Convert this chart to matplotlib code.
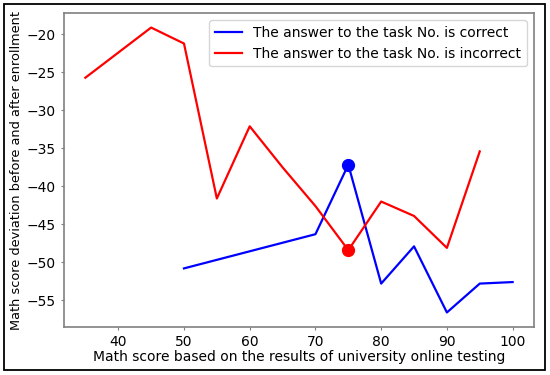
import matplotlib
matplotlib.use("Agg")
import matplotlib.pyplot as plt
from matplotlib.patches import Rectangle

correct_x = [50, 70, 75, 80, 85, 90, 95, 100]
correct_y = [-50.8, -46.3, -37.15, -52.8, -47.9, -56.6, -52.8, -52.6]
incorrect_x = [35, 45, 50, 55, 60, 65, 70, 75, 80, 85, 90, 95]
incorrect_y = [-25.7, -19.1, -21.2, -41.6, -32.1, -37.5, -42.6, -48.4, -42.0, -43.9, -48.1, -35.4]
marker_x = 75
label_correct = "The answer to the task No. is correct"
label_incorrect = "The answer to the task No. is incorrect"
xlabel = "Math score based on the results of university online testing"
ylabel = "Math score deviation before and after enrollment"

fig = plt.figure(figsize=(5.5, 3.75), dpi=100)
ax = fig.add_axes([0.1164, 0.1288, 0.8545, 0.8357])

ax.plot(correct_x, correct_y, color="blue", lw=1.6, label=label_correct)
ax.plot(incorrect_x, incorrect_y, color="red", lw=1.6, label=label_incorrect)
ax.plot([marker_x], [correct_y[correct_x.index(marker_x)]], "o", color="blue", ms=8.5)
ax.plot([marker_x], [incorrect_y[incorrect_x.index(marker_x)]], "o", color="red", ms=8.5)

ax.set_xlabel(xlabel, fontsize=10, labelpad=1)
ax.set_ylabel(ylabel, fontsize=9.3, labelpad=2.5)
ax.tick_params(labelsize=10, length=2.5, color="#808080")
ax.set_xticks([40, 50, 60, 70, 80, 90, 100])
ax.set_yticks([-20, -25, -30, -35, -40, -45, -50, -55])
for s in ax.spines.values():
    s.set_color("#808080")
    s.set_linewidth(1.2)

ax.legend(loc="upper right", fontsize=10, handlelength=2, borderaxespad=0.5)

fig.patches.append(Rectangle((4 / 550, 5 / 375), 541 / 550, 366 / 375,
                             transform=fig.transFigure, fill=False,
                             edgecolor="black", lw=1.3))

fig.savefig("out.png", dpi=100)
